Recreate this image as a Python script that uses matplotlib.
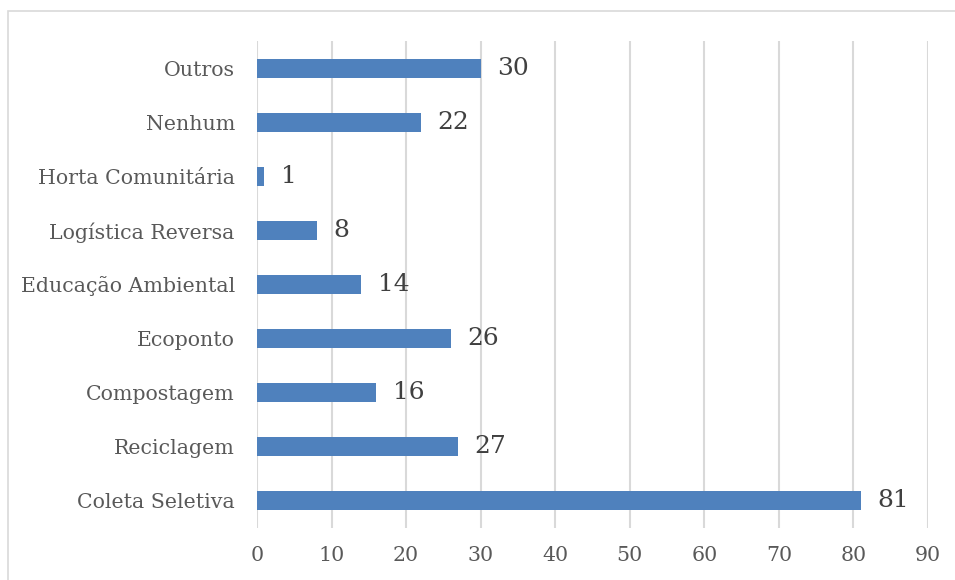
import matplotlib.pyplot as plt
from matplotlib.patches import Rectangle

categories = ['Coleta Seletiva', 'Reciclagem', 'Compostagem', 'Ecoponto',
              'Educação Ambiental', 'Logística Reversa', 'Horta Comunitária',
              'Nenhum', 'Outros']
values = [81, 27, 16, 26, 14, 8, 1, 22, 30]
xticks = [0, 10, 20, 30, 40, 50, 60, 70, 80, 90]

bar_color = '#4F81BD'
grid_color = '#D9D9D9'
label_color = '#595959'
value_color = '#404040'

plt.rcParams['font.family'] = ['DejaVu Serif']

fig = plt.figure(figsize=(9.55, 5.8), dpi=100)
ax = fig.add_axes([0.2691, 0.0897, 0.7026, 0.8396])

# chart frame (right and bottom edges run off the canvas)
fig.patches.append(Rectangle((8 / 955, -0.1), 1.2, 1 - 11 / 580 + 0.1,
                             transform=fig.transFigure, fill=False,
                             edgecolor=grid_color, linewidth=1.2))

ypos = range(len(categories))
ax.barh(ypos, values, height=0.35, color=bar_color, zorder=3)
for y, v in zip(ypos, values):
    ax.text(v + 2.2, y, str(v), va='center', ha='left',
            fontsize=18, color=value_color)

ax.set_xlim(0, 90)
ax.set_ylim(-0.5, len(categories) - 0.5)
ax.set_xticks(xticks)
ax.set_yticks(list(ypos))
ax.set_yticklabels(categories)
ax.tick_params(axis='both', length=0, labelsize=14.8, colors=label_color)
ax.tick_params(axis='y', pad=16)
ax.tick_params(axis='x', pad=13)
ax.grid(axis='x', color=grid_color, linewidth=1.5, zorder=0)
for s in ax.spines.values():
    s.set_visible(False)

fig.savefig('out.png', dpi=100)
